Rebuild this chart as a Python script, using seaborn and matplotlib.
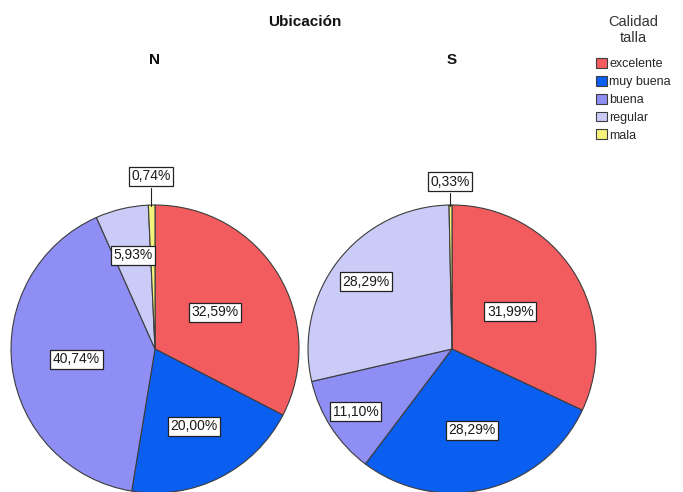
import numpy as np
import matplotlib
matplotlib.use("Agg")
import matplotlib.pyplot as plt
from matplotlib.patches import Patch
import seaborn as sns

categories = ["excelente", "muy buena", "buena", "regular", "mala"]
groups = ["N", "S"]
values_n = [32.59, 20.00, 40.74, 5.93, 0.74]
values_s = [31.99, 28.29, 11.10, 28.29, 0.33]
colors = ["#F25C5E", "#0A5EF0", "#8E8EF5", "#CBCBF8", "#F3F27C"]

# distance of each value label from the pie centre (in radii)
label_radius_n = [0.49, 0.60, 0.55, 0.67, 1.20]
label_radius_s = [0.48, 0.58, 0.80, 0.76, 1.16]

sns.set_theme(style="white")
plt.rcParams["font.family"] = ["Liberation Sans", "DejaVu Sans"]

W, H = 683, 492
fig = plt.figure(figsize=(W / 100, H / 100), dpi=100)

R_PX = 144
SPAN = 1.05


def pie_axes(cx, cy):
    half = R_PX * SPAN
    ax = fig.add_axes([(cx - half) / W, (H - cy - half) / H, 2 * half / W, 2 * half / H])
    ax.axis("off")
    return ax


def draw_pie(ax, values, radii):
    wedges, _ = ax.pie(values, colors=colors, startangle=90, counterclock=False,
                       radius=1.0,
                       wedgeprops=dict(edgecolor="#3c3c3c", linewidth=0.8))
    ax.set_xlim(-SPAN, SPAN)
    ax.set_ylim(-SPAN, SPAN)
    ax.set_aspect("equal")
    for w in wedges:
        w.set_clip_on(False)
    box = dict(boxstyle="square,pad=0.18", facecolor="white", edgecolor="#222222", linewidth=0.9)
    for w, v, r in zip(wedges, values, radii):
        mid = np.deg2rad((w.theta1 + w.theta2) / 2)
        x, y = r * np.cos(mid), r * np.sin(mid)
        txt = f"{v:.2f}%".replace(".", ",")
        if r > 1:
            ax.plot([x, x], [y - 0.08, 0.995], color="#222222", lw=0.8, clip_on=False)
        ax.text(x, y, txt, ha="center", va="center", fontsize=10, color="#1a1a1a",
                bbox=box, clip_on=False, zorder=5)


ax_n = pie_axes(155, 349)
draw_pie(ax_n, values_n, label_radius_n)
ax_s = pie_axes(452, 349)
draw_pie(ax_s, values_s, label_radius_s)

fig.text(305 / W, 1 - 22 / H, "Ubicación", ha="center", va="center",
         fontsize=11, fontweight="bold", color="#111111")
fig.text(155 / W, 1 - 60 / H, groups[0], ha="center", va="center",
         fontsize=11, fontweight="bold", color="#111111")
fig.text(452 / W, 1 - 60 / H, groups[1], ha="center", va="center",
         fontsize=11, fontweight="bold", color="#111111")

handles = [Patch(facecolor=c, edgecolor="#3c3c3c", linewidth=0.8) for c in colors]
leg = fig.legend(handles, categories, title="Calidad\ntalla", loc="upper left",
                 bbox_to_anchor=(591 / W, 1 - 10 / H), frameon=False,
                 fontsize=9, title_fontsize=10.5, handlelength=0.85, handleheight=0.85,
                 handletextpad=0.2, labelspacing=0.45, borderaxespad=0)
leg.get_title().set_multialignment("center")
leg.get_title().set_color("#333333")
leg._legend_box.sep = 9

fig.savefig("out.png", dpi=100, facecolor="white")
